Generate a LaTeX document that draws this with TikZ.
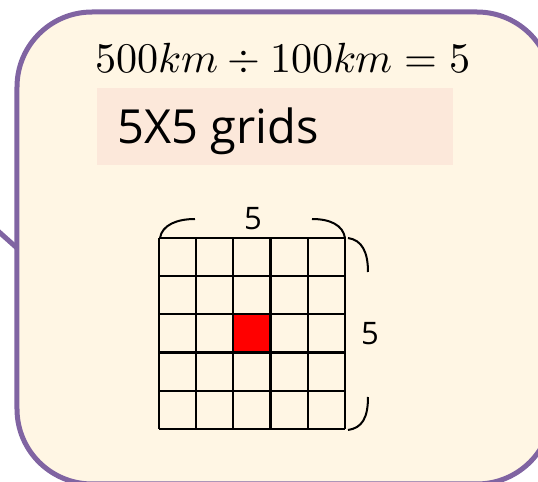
\documentclass[tikz,border=0pt]{standalone}
\usepackage{amsmath}
\usepackage{fontspec}
\usepackage{unicode-math}
\newfontfamily\labelfont{Open Sans}
\definecolor{boxpurple}{HTML}{8064A2}
\definecolor{boxcream}{HTML}{FFF6E4}
\definecolor{peach}{HTML}{FCE8DA}

\begin{document}
\begin{tikzpicture}[x=0.5pt,y=-0.5pt,
    callout/.style={draw=boxpurple,line width=2.5pt},
    gridline/.style={line width=1.1pt,black},
    brace/.style={line width=1pt,black}]

\useasboundingbox (0,0) rectangle (538,482);
\clip (0,0) rectangle (538,482);

% 气泡框（尾巴 + 圆角框）
\coordinate (tip) at (-30,206);
\coordinate (tailbase) at (17,248);
\draw[callout] (tip) -- (tailbase);
\draw[callout,fill=boxcream,rounded corners=37.5pt] (17,12) rectangle (552,484);

% 算式
\node[anchor=base] (eq) at (283,73) {\fontsize{21.1}{24}\selectfont $500km \div 100km = 5$};

% 标题 5X5 grids
\fill[peach] (97,88) rectangle (453,165);
\node[anchor=base west,inner sep=0pt] (title) at (117,144) {\labelfont\fontsize{23.5}{28}\selectfont 5X5 grids};

% 网格
\foreach \i in {0,...,5} {
    \draw[gridline] (159+37.2*\i,238) -- (159+37.2*\i,429);
    \draw[gridline] (159,238+38.2*\i) -- (345,238+38.2*\i);
}
\draw[gridline,fill=red] (233.4,314.4) rectangle (270.6,352.6);

% 上方括号
\draw[brace] (160,238) .. controls (162,225) and (177,219) .. (195,219);
\draw[brace] (312,219) .. controls (330,219) and (343,225) .. (345,238);
\node (topnum) at (253,219) {\labelfont\fontsize{15.5}{18}\selectfont 5};

% 右侧括号
\draw[brace] (348,238) .. controls (362,240) and (368,252) .. (368,272);
\draw[brace] (368,397) .. controls (368,418) and (362,428) .. (348,430);
\node (sidenum) at (370,334) {\labelfont\fontsize{15.5}{18}\selectfont 5};

\end{tikzpicture}
\end{document}
